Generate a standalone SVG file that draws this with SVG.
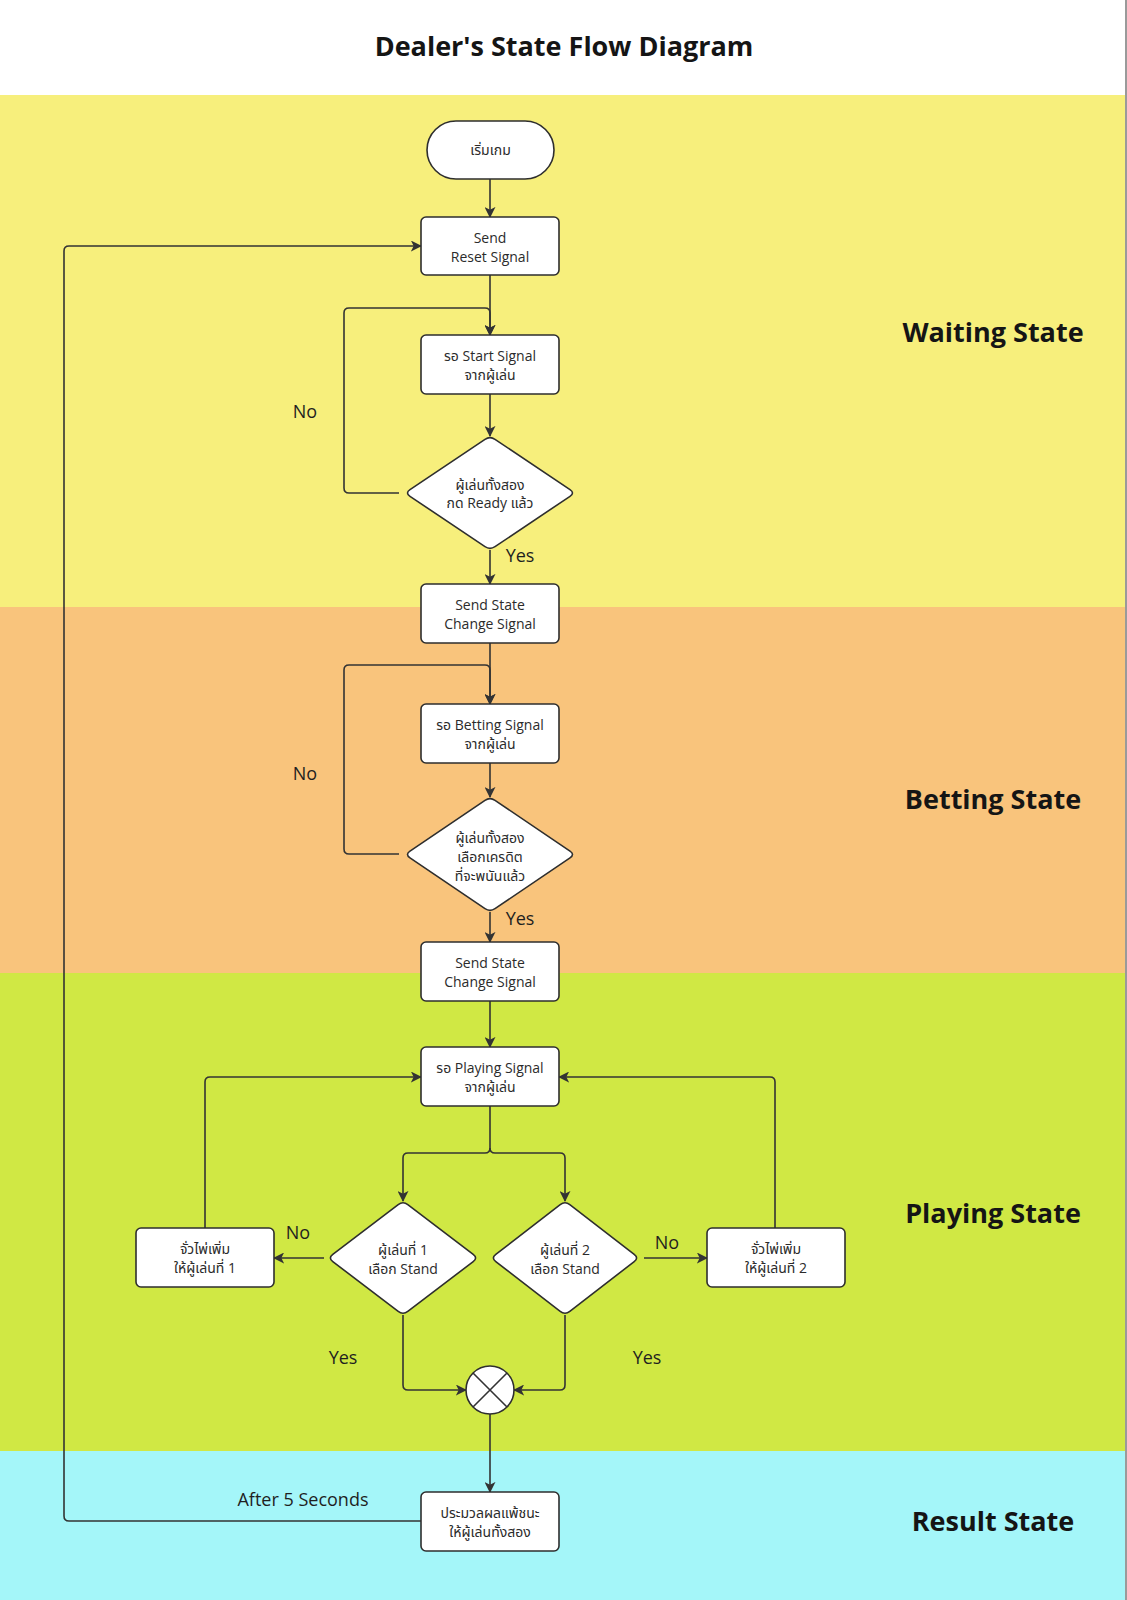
<svg xmlns="http://www.w3.org/2000/svg" width="1127" height="1600" viewBox="0 0 1127 1600">
<style>
  .node { fill: #ffffff; stroke: #2e2e2e; stroke-width: 1.6; stroke-linejoin: round; }
  .conn { fill: none; stroke: #333333; stroke-width: 1.6; stroke-linejoin: round; }
  .t { font-family: "Open Sans", "Noto Sans", "Noto Sans Thai", "DejaVu Sans", sans-serif; font-size: 14px; fill: #2b2b2b; text-anchor: middle; }
  .lbl { font-family: "Open Sans", "Noto Sans", sans-serif; font-size: 18px; fill: #1f1f1f; text-anchor: middle; }
  .state { font-family: "Open Sans", "Noto Sans", sans-serif; font-size: 27px; font-weight: bold; fill: #151515; text-anchor: middle; }
  .title { font-family: "Open Sans", "Noto Sans", sans-serif; font-size: 27px; font-weight: bold; fill: #151515; text-anchor: middle; }
</style>
<defs>
  <marker id="arrB" viewBox="0 0 12 12" refX="11" refY="6" markerWidth="11" markerHeight="11" markerUnits="userSpaceOnUse" orient="auto">
    <path d="M0,0 L12,6 L0,12 L3,6 Z" fill="#333333"/>
  </marker>
</defs>

<!-- background bands -->
<g id="bands">
  <rect x="0" y="0" width="1127" height="95" fill="#ffffff"/>
  <rect x="0" y="95" width="1127" height="512" fill="#F7EF7C"/>
  <rect x="0" y="607" width="1127" height="366" fill="#F9C47C"/>
  <rect x="0" y="973" width="1127" height="478" fill="#D0E844"/>
  <rect x="0" y="1451" width="1127" height="149" fill="#A4F6F9"/>
  <rect x="1125" y="0" width="2" height="1600" fill="#9a9a9a"/>
</g>

<text class="title" x="564" y="56">Dealer's State Flow Diagram</text>

<g id="state-labels">
  <text class="state" x="993" y="342">Waiting State</text>
  <text class="state" x="993" y="809">Betting State</text>
  <text class="state" x="993" y="1223">Playing State</text>
  <text class="state" x="993" y="1531">Result State</text>
</g>

<!-- connectors -->
<g id="connectors">
  <path class="conn" marker-end="url(#arrB)" d="M490 179 V217"/>
  <path class="conn" marker-end="url(#arrB)" d="M490 275 V335"/>
  <path class="conn" marker-end="url(#arrB)" d="M490 394 V436"/>
  <path class="conn" marker-end="url(#arrB)" d="M399 493 H349 Q344 493 344 488 V313 Q344 308 349 308 H485 Q490 308 490 313 V335"/>
  <path class="conn" marker-end="url(#arrB)" d="M490 550 V584"/>
  <path class="conn" marker-end="url(#arrB)" d="M490 643 V704"/>
  <path class="conn" marker-end="url(#arrB)" d="M490 763 V797"/>
  <path class="conn" marker-end="url(#arrB)" d="M399 854 H349 Q344 854 344 849 V670 Q344 665 349 665 H485 Q490 665 490 670 V704"/>
  <path class="conn" marker-end="url(#arrB)" d="M490 912 V942"/>
  <path class="conn" marker-end="url(#arrB)" d="M490 1001 V1047"/>
  <path class="conn" marker-end="url(#arrB)" d="M490 1106 V1148 Q490 1153 485 1153 H408 Q403 1153 403 1158 V1201"/>
  <path class="conn" marker-end="url(#arrB)" d="M490 1148 Q490 1153 495 1153 H560 Q565 1153 565 1158 V1201"/>
  <path class="conn" marker-end="url(#arrB)" d="M324 1258 H274"/>
  <path class="conn" marker-end="url(#arrB)" d="M644 1258 H707"/>
  <path class="conn" marker-end="url(#arrB)" d="M205 1228 V1082 Q205 1077 210 1077 H421"/>
  <path class="conn" marker-end="url(#arrB)" d="M775 1228 V1082 Q775 1077 770 1077 H559"/>
  <path class="conn" marker-end="url(#arrB)" d="M403 1315 V1385 Q403 1390 408 1390 H466"/>
  <path class="conn" marker-end="url(#arrB)" d="M565 1315 V1385 Q565 1390 560 1390 H514"/>
  <path class="conn" marker-end="url(#arrB)" d="M490 1414 V1492"/>
  <path class="conn" marker-end="url(#arrB)" d="M421 1521 H69 Q64 1521 64 1516 V251 Q64 246 69 246 H421"/>
  <text class="lbl" x="305" y="418">No</text>
  <text class="lbl" x="520" y="562">Yes</text>
  <text class="lbl" x="305" y="780">No</text>
  <text class="lbl" x="520" y="925">Yes</text>
  <text class="lbl" x="298" y="1239">No</text>
  <text class="lbl" x="667" y="1249">No</text>
  <text class="lbl" x="343" y="1364">Yes</text>
  <text class="lbl" x="647" y="1364">Yes</text>
  <text class="lbl" x="303" y="1506">After 5 Seconds</text>
</g>

<!-- nodes -->
<g id="start">
  <rect class="node" x="427" y="121" width="127" height="58" rx="29"/>
  <text class="t" x="490.5" y="155">เริ่มเกม</text>
</g>
<g id="send-reset">
  <rect class="node" x="421" y="217" width="138" height="58" rx="5"/>
  <text class="t" x="490" y="243">Send</text>
  <text class="t" x="490" y="262">Reset Signal</text>
</g>
<g id="wait-start">
  <rect class="node" x="421" y="335" width="138" height="59" rx="5"/>
  <text class="t" x="490" y="361">รอ Start Signal</text>
  <text class="t" x="490" y="380">จากผู้เล่น</text>
</g>
<g id="check-ready">
  <path class="node" d="M485 439.3 Q490 436 495 439.3 L570 489.7 Q575 493 570 496.3 L495 546.7 Q490 550 485 546.7 L410 496.3 Q405 493 410 489.7 Z"/>
  <text class="t" x="490" y="490">ผู้เล่นทั้งสอง</text>
  <text class="t" x="490" y="508">กด Ready แล้ว</text>
</g>
<g id="state-change-1">
  <rect class="node" x="421" y="584" width="138" height="59" rx="5"/>
  <text class="t" x="490" y="610">Send State</text>
  <text class="t" x="490" y="629">Change Signal</text>
</g>
<g id="wait-betting">
  <rect class="node" x="421" y="704" width="138" height="59" rx="5"/>
  <text class="t" x="490" y="730">รอ Betting Signal</text>
  <text class="t" x="490" y="749">จากผู้เล่น</text>
</g>
<g id="check-bet">
  <path class="node" d="M485 800.3 Q490 797 495 800.3 L570 851.2 Q575 854.5 570 857.8 L495 908.7 Q490 912 485 908.7 L410 857.8 Q405 854.5 410 851.2 Z"/>
  <text class="t" x="490" y="843">ผู้เล่นทั้งสอง</text>
  <text class="t" x="490" y="862">เลือกเครดิต</text>
  <text class="t" x="490" y="881">ที่จะพนันแล้ว</text>
</g>
<g id="state-change-2">
  <rect class="node" x="421" y="942" width="138" height="59" rx="5"/>
  <text class="t" x="490" y="968">Send State</text>
  <text class="t" x="490" y="987">Change Signal</text>
</g>
<g id="wait-playing">
  <rect class="node" x="421" y="1047" width="138" height="59" rx="5"/>
  <text class="t" x="490" y="1073">รอ Playing Signal</text>
  <text class="t" x="490" y="1092">จากผู้เล่น</text>
</g>
<g id="p1-stand">
  <path class="node" d="M398.2 1204.6 Q403 1201 407.8 1204.6 L473.2 1254.4 Q478 1258 473.2 1261.6 L407.8 1311.4 Q403 1315 398.2 1311.4 L332.8 1261.6 Q328 1258 332.8 1254.4 Z"/>
  <text class="t" x="403" y="1255">ผู้เล่นที่ 1</text>
  <text class="t" x="403" y="1274">เลือก Stand</text>
</g>
<g id="p2-stand">
  <path class="node" d="M560.2 1204.6 Q565 1201 569.8 1204.6 L634.2 1254.4 Q639 1258 634.2 1261.6 L569.8 1311.4 Q565 1315 560.2 1311.4 L495.8 1261.6 Q491 1258 495.8 1254.4 Z"/>
  <text class="t" x="565" y="1255">ผู้เล่นที่ 2</text>
  <text class="t" x="565" y="1274">เลือก Stand</text>
</g>
<g id="hit-p1">
  <rect class="node" x="136" y="1228" width="138" height="59" rx="5"/>
  <text class="t" x="205" y="1254">จั่วไพ่เพิ่ม</text>
  <text class="t" x="205" y="1273">ให้ผู้เล่นที่ 1</text>
</g>
<g id="hit-p2">
  <rect class="node" x="707" y="1228" width="138" height="59" rx="5"/>
  <text class="t" x="776" y="1254">จั่วไพ่เพิ่ม</text>
  <text class="t" x="776" y="1273">ให้ผู้เล่นที่ 2</text>
</g>
<g id="merge">
  <circle class="node" cx="490" cy="1390" r="24"/>
  <path class="conn" d="M473 1373 L507 1407 M507 1373 L473 1407"/>
</g>
<g id="result">
  <rect class="node" x="421" y="1492" width="138" height="59" rx="5"/>
  <text class="t" x="490" y="1518">ประมวลผลแพ้ชนะ</text>
  <text class="t" x="490" y="1537">ให้ผู้เล่นทั้งสอง</text>
</g>
</svg>
